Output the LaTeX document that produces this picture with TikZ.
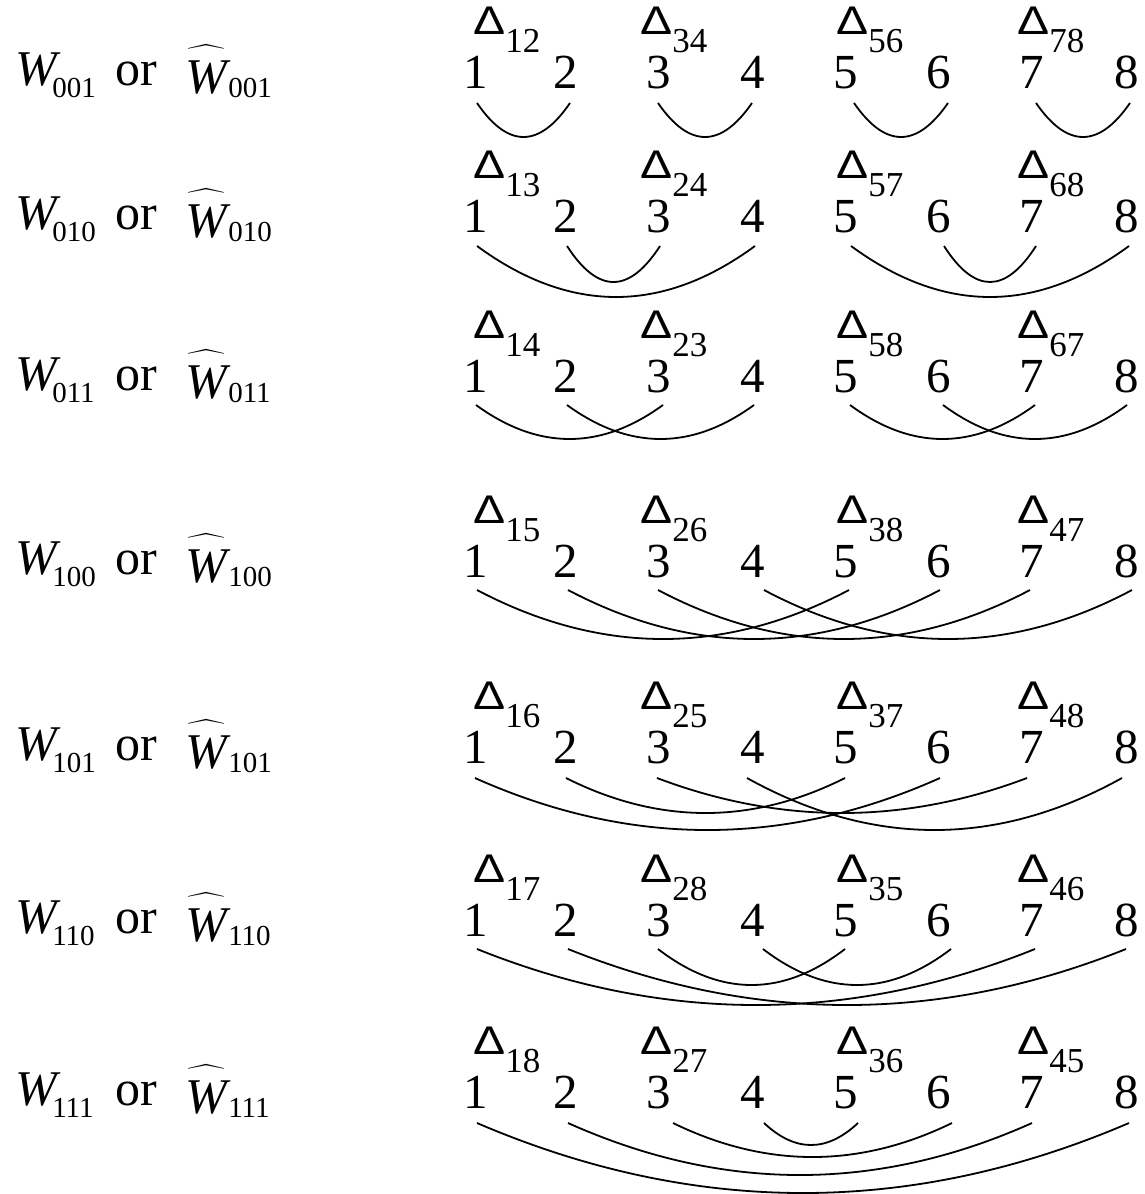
\RequirePackage{fix-cm}
\documentclass[tikz,border=0pt]{standalone}
\usepackage{exscale}
\usepackage{fontspec}
\usepackage{graphicx}
\setmainfont{Liberation Serif}
\newfontfamily\deltafont{Liberation Sans}
\usetikzlibrary{calc}

\newcommand\digsz{\fontsize{49}{49}\selectfont}
\newcommand\dsubsz{\fontsize{35}{35}\selectfont}
\newcommand\lblsz{\fontsize{50}{50}\selectfont}
\newcommand\lsubsz{\fontsize{29}{29}\selectfont}
\newcommand\tri{\scalebox{1.2}[1]{\deltafont\fontsize{40}{40}\selectfont Δ}}
\newcommand\hatW{{\fontsize{35}{35}\selectfont$\widehat{\hbox{\lblsz\raisebox{0pt}[40pt][0pt]{\itshape W}}}$}}

\tikzset{
  digit/.style={anchor=base, inner sep=0pt, font=\digsz},
  dlabel/.style={anchor=base west, inner sep=0pt},
  wlabel/.style={anchor=base west, inner sep=0pt, font=\lblsz},
  link/.style={line width=1.8pt},
}

% one row of digits 1..8, #1 = row id, #2 = baseline y
\newcommand\digitrow[2]{%
  \foreach \k/\xx in {1/476,2/566,3/659,4/753,5/846,6/939,7/1032,8/1127}
    {\node[digit] (r#1n\k) at (\xx,#2) {\k};}
}
% arc: row, i, j, dx at i, dx at j, drop below baseline, depth
\newcommand\linkarc[7]{%
  \coordinate (r#1a#2#3s) at ($(r#1n#2.base)+(#4,#6)$);
  \coordinate (r#1a#2#3e) at ($(r#1n#3.base)+(#5,#6)$);
  \draw[link] (r#1a#2#3s) .. controls ($(r#1a#2#3s)!1/3!(r#1a#2#3e)+(0,4/3*#7)$)
    and ($(r#1a#2#3s)!2/3!(r#1a#2#3e)+(0,4/3*#7)$) .. (r#1a#2#3e);
}
% delta label: row, column, dx, subscript
\newcommand\dlbl[4]{%
  \node[dlabel] (d#1c#2) at ($(r#1n#2.base)+(#3,-54)$) {\tri\raisebox{-18pt}{\dsubsz #4}};
}
% left label: row, baseline y, index
\newcommand\wlbl[3]{%
  \node[wlabel] (w#1) at (15,#2) {{\itshape W}\kern-4.6pt\raisebox{-12pt}{\lsubsz #3}};
  \node[wlabel] (or#1) at (115,#2) {or};
  \node[wlabel] (hw#1) at (185,#2+8) {\hatW\kern1.4pt\raisebox{-4pt}{\lsubsz #3}};
}

\begin{document}
\begin{tikzpicture}[x=1pt,y=-1pt]
\useasboundingbox (0,0) rectangle (1144,1194);

% ---- row 1
\wlbl{1}{85}{001}
\digitrow{1}{88}
\dlbl{1}{1}{-3}{12}\dlbl{1}{3}{-19}{34}\dlbl{1}{5}{-10}{56}\dlbl{1}{7}{-15}{78}
\linkarc{1}{1}{2}{1}{4}{15}{34}
\linkarc{1}{3}{4}{-1}{-1}{15}{34}
\linkarc{1}{5}{6}{8}{9}{15}{34}
\linkarc{1}{7}{8}{4}{3}{15}{34}

% ---- row 2
\wlbl{2}{229}{010}
\digitrow{2}{232}
\dlbl{2}{1}{-3}{13}\dlbl{2}{3}{-19}{24}\dlbl{2}{5}{-10}{57}\dlbl{2}{7}{-15}{68}
\linkarc{2}{1}{4}{1}{2}{14}{51}
\linkarc{2}{2}{3}{1}{1}{14}{36}
\linkarc{2}{5}{8}{5}{2}{14}{51}
\linkarc{2}{6}{7}{5}{4}{14}{36}

% ---- row 3
\wlbl{3}{390}{011}
\digitrow{3}{392}
\dlbl{3}{1}{-3}{14}\dlbl{3}{3}{-19}{23}\dlbl{3}{5}{-10}{58}\dlbl{3}{7}{-15}{67}
\linkarc{3}{1}{3}{0}{4}{13}{34}
\linkarc{3}{2}{4}{1}{1}{13}{34}
\linkarc{3}{5}{7}{4}{3}{13}{34}
\linkarc{3}{6}{8}{4}{0}{13}{34}

% ---- row 4
\wlbl{4}{574}{100}
\digitrow{4}{577}
\dlbl{4}{1}{-3}{15}\dlbl{4}{3}{-19}{26}\dlbl{4}{5}{-10}{38}\dlbl{4}{7}{-15}{47}
\linkarc{4}{1}{5}{1}{3}{13}{49}
\linkarc{4}{2}{6}{2}{1}{13}{49}
\linkarc{4}{3}{7}{-1}{-2}{13}{49}
\linkarc{4}{4}{8}{11}{5}{13}{49}

% ---- row 5
\wlbl{5}{760}{101}
\digitrow{5}{763}
\dlbl{5}{1}{-3}{16}\dlbl{5}{3}{-19}{25}\dlbl{5}{5}{-10}{37}\dlbl{5}{7}{-15}{48}
\linkarc{5}{1}{6}{-1}{1}{15}{52}
\linkarc{5}{2}{5}{0}{-1}{15}{35}
\linkarc{5}{3}{7}{-2}{-5}{15}{35}
\linkarc{5}{4}{8}{-6}{-5}{15}{52}

% ---- row 6
\wlbl{6}{933}{110}
\digitrow{6}{936}
\dlbl{6}{1}{-3}{17}\dlbl{6}{3}{-19}{28}\dlbl{6}{5}{-10}{35}\dlbl{6}{7}{-15}{46}
\linkarc{6}{1}{7}{1}{3}{13}{56}
\linkarc{6}{2}{8}{2}{-1}{13}{56}
\linkarc{6}{3}{5}{-1}{-1}{13}{36}
\linkarc{6}{4}{6}{10}{12}{13}{36}

% ---- row 7
\wlbl{7}{1105}{111}
\digitrow{7}{1108}
\dlbl{7}{1}{-3}{18}\dlbl{7}{3}{-19}{27}\dlbl{7}{5}{-10}{36}\dlbl{7}{7}{-15}{45}
\linkarc{7}{1}{8}{1}{2}{15}{70}
\linkarc{7}{2}{7}{2}{0}{15}{52}
\linkarc{7}{3}{6}{14}{13}{15}{34}
\linkarc{7}{4}{5}{11}{12}{15}{22}
\end{tikzpicture}
\end{document}
